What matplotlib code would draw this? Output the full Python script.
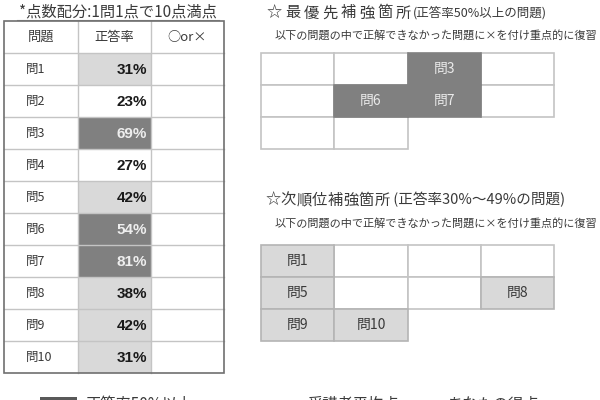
import matplotlib.pyplot as plt
from matplotlib.patches import Rectangle

# =========================
# DATA
# =========================
left_title = "*点数配分:1問1点で10点満点"
headers = ["問題", "正答率", "○or×"]
questions = ["問1", "問2", "問3", "問4", "問5", "問6", "問7", "問8", "問9", "問10"]
rates = [31, 23, 69, 27, 42, 54, 81, 38, 42, 31]

title1_main = "☆最優先補強箇所"
title1_sub = "(正答率50%以上の問題)"
title2_main = "☆次順位補強箇所"
title2_sub = " (正答率30%～49%の問題)"
instruction = "以下の問題の中で正解できなかった問題に×を付け重点的に復習"

priority_grid = [["", "", "問3", ""],
                 ["", "問6", "問7", ""],
                 ["", ""]]
second_grid = [["問1", "", "", ""],
               ["問5", "", "", "問8"],
               ["問9", "問10"]]

legend_labels = ["正答率50%以上", "受講者平均点", "あなたの得点"]

# =========================
# STYLE
# =========================
JP = ["Noto Sans CJK JP", "DejaVu Sans"]
DARK = "#808080"
LIGHT = "#d9d9d9"
LINE = "#c4c4c4"
TXT = "#3a3a3a"

plt.rcParams["font.family"] = JP

fig = plt.figure(figsize=(6, 4), dpi=100)
ax = fig.add_axes([0, 0, 1, 1])
ax.set_xlim(0, 600)
ax.set_ylim(400, 0)
ax.axis("off")


def rate_color(r):
    if r >= 50:
        return DARK
    if r >= 30:
        return LIGHT
    return "white"


# =========================
# LEFT TABLE
# =========================
col_x = [4, 78, 151, 224]
top = 21
row_h = 32.0

ax.text(118, 12.5, left_title, ha="center", va="center", fontsize=11, color=TXT)
ax.plot([17, 219], [19.5, 19.5], color="#888888", lw=0.8)

for j, h in enumerate(headers):
    ax.text((col_x[j] + col_x[j + 1]) / 2, top + row_h / 2, h,
            ha="center", va="center", fontsize=9.5, color=TXT)

for i, (q, r) in enumerate(zip(questions, rates)):
    y0 = top + row_h * (i + 1)
    yc = y0 + row_h / 2
    fc = rate_color(r)
    ax.add_patch(Rectangle((col_x[1], y0), col_x[2] - col_x[1], row_h,
                           facecolor=fc, edgecolor="none", zorder=1))
    ax.text(26, yc, q, ha="left", va="center", fontsize=9, color=TXT, zorder=3)
    ax.text(147, yc + 1, f"{r}%", ha="right", va="center", fontsize=11,
            fontfamily="Liberation Sans", fontweight="bold",
            color="#eeeeee" if fc == DARK else "#1a1a1a", zorder=3)

n_rows = len(questions) + 1
bottom = top + row_h * n_rows
for k in range(1, n_rows):
    ax.plot([col_x[0], col_x[-1]], [top + row_h * k] * 2, color=LINE, lw=1, zorder=2)
for x in col_x[1:-1]:
    ax.plot([x, x], [top, bottom], color=LINE, lw=1, zorder=2)
ax.add_patch(Rectangle((col_x[0], top), col_x[-1] - col_x[0], bottom - top,
                       facecolor="none", edgecolor="#707070", lw=1.2, zorder=4))


# =========================
# RIGHT GRIDS
# =========================
def spaced_title(text, x0, y, pitch, size):
    for k, ch in enumerate(text):
        ax.text(x0 + pitch * k + pitch / 2, y, ch, ha="center", va="center",
                fontsize=size, color=TXT)
    return x0 + pitch * len(text)


def draw_grid(grid, y_top, fill):
    gx, cw, ch = 261, 73.3, 32.0
    # empty cells first, filled cells on top so inner lines vanish
    for pass_filled in (False, True):
        for i, row in enumerate(grid):
            for j, lab in enumerate(row):
                if bool(lab) != pass_filled:
                    continue
                x0 = gx + cw * j
                y0 = y_top + ch * i
                if lab:
                    ec = fill if fill == DARK else "#b4b4b4"
                    ax.add_patch(Rectangle((x0, y0), cw, ch, facecolor=fill,
                                           edgecolor=ec, lw=1.2, zorder=2))
                    ax.text(x0 + cw / 2, y0 + ch / 2, lab, ha="center", va="center",
                            fontsize=10,
                            color="#eaeaea" if fill == DARK else TXT, zorder=3)
                else:
                    ax.add_patch(Rectangle((x0, y0), cw, ch, facecolor="white",
                                           edgecolor=LINE, lw=1.2, zorder=1))


end = spaced_title(title1_main, 265, 13, 18.5, 11)
ax.text(end, 13, title1_sub, ha="left", va="center", fontsize=9, color=TXT)
ax.text(275, 35, instruction, ha="left", va="center", fontsize=8, color=TXT)
draw_grid(priority_grid, 52.7, DARK)

end = spaced_title(title2_main, 265, 200, 15.6, 11)
ax.text(end, 200, title2_sub, ha="left", va="center", fontsize=10.5, color=TXT)
ax.text(275, 223, instruction, ha="left", va="center", fontsize=8, color=TXT)
draw_grid(second_grid, 245, LIGHT)

# =========================
# LEGEND (cut at bottom edge, as in the source)
# =========================
ax.add_patch(Rectangle((40, 396.5), 37, 20, facecolor="#595959", edgecolor="none"))
ax.text(85, 404, legend_labels[0], ha="left", va="center", fontsize=11, color=TXT)
ax.text(307, 404, legend_labels[1], ha="left", va="center", fontsize=11, color=TXT)
ax.text(447, 404, legend_labels[2], ha="left", va="center", fontsize=11, color=TXT)

fig.savefig("out.png", dpi=100)
plt.close(fig)
